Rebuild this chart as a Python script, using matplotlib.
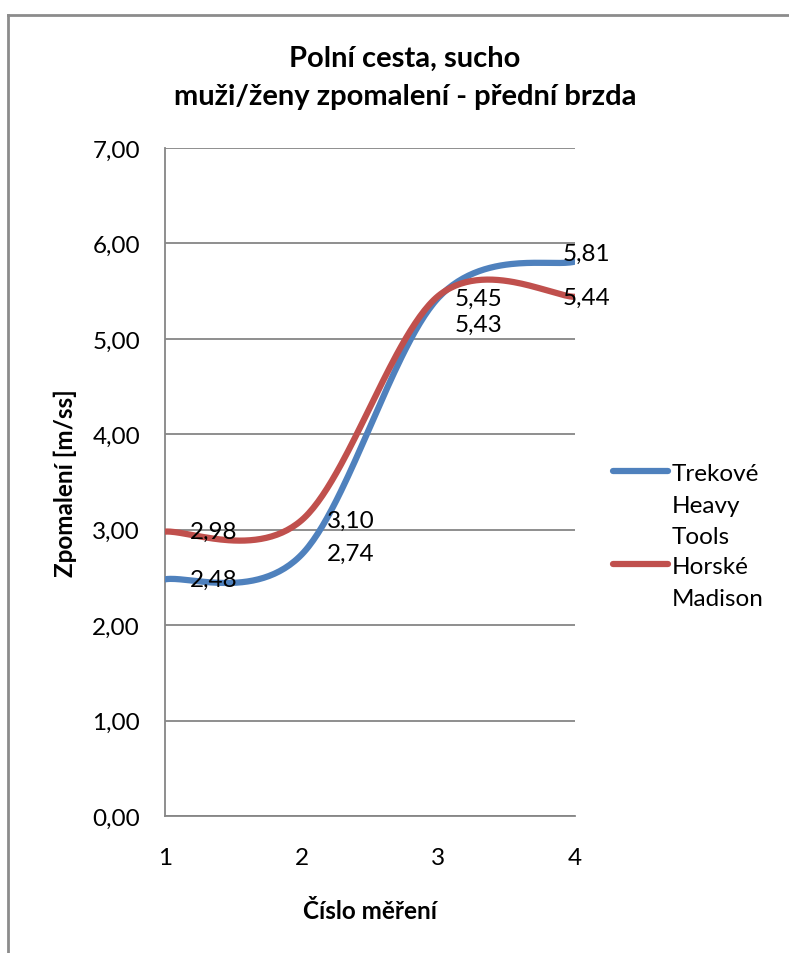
import numpy as np
import matplotlib
matplotlib.use("Agg")
import matplotlib.pyplot as plt
from matplotlib.lines import Line2D

plt.rcParams['font.family'] = ['Lato', 'DejaVu Sans']

mereni = [1, 2, 3, 4]
trekove = [2.48, 2.74, 5.43, 5.81]
horske = [2.98, 3.10, 5.45, 5.44]
nazvy = ["Trekové\nHeavy\nTools", "Horské\nMadison"]
y_ticks = [0, 1, 2, 3, 4, 5, 6, 7]

# label offsets (points) per series/point
off_trek = [(18, 0), (18, 1), (12, -19), (-9, 6)]
off_hors = [(18, 0), (18, 0), (12, -2), (-9, 0)]

FS = 17.5


def excel_smooth(xs, ys, n=60):
    # Bezier smoothing like Excel (tension 1/6)
    p = np.column_stack([xs, ys]).astype(float)
    out = []
    for i in range(len(p) - 1):
        p0 = p[i - 1] if i > 0 else p[i]
        p3 = p[i + 2] if i + 2 < len(p) else p[i + 1]
        c1 = p[i] + (p[i + 1] - p0) / 6
        c2 = p[i + 1] - (p3 - p[i]) / 6
        t = np.linspace(0, 1, n)[:, None]
        seg = ((1 - t) ** 3 * p[i] + 3 * (1 - t) ** 2 * t * c1
               + 3 * (1 - t) * t ** 2 * c2 + t ** 3 * p[i + 1])
        out.append(seg if i == 0 else seg[1:])
    seg = np.vstack(out)
    return seg[:, 0], seg[:, 1]


fig = plt.figure(figsize=(7.89, 9.54), dpi=100)
ax = fig.add_axes([165 / 789, 1 - 817 / 954, 410 / 789, 668 / 954])

barvy = ["#4F81BD", "#C0504D"]
for data, barva, offs in [(trekove, barvy[0], off_trek),
                          (horske, barvy[1], off_hors)]:
    sx, sy = excel_smooth(mereni, data)
    ax.plot(sx, sy, color=barva, lw=4.5, solid_capstyle="round", zorder=3)
    for x, y, o in zip(mereni, data, offs):
        ax.annotate(f"{y:.2f}".replace(".", ","), (x, y), xytext=o,
                    textcoords="offset points", ha="left", va="center",
                    fontsize=FS, zorder=4, annotation_clip=False)

ax.set_xlim(1, 4)
ax.set_ylim(0, 7)
ax.set_yticks(y_ticks)
ax.set_yticklabels([f"{v:.2f}".replace(".", ",") for v in y_ticks], fontsize=FS)
ax.set_xticks(mereni)
ax.set_xticklabels([str(m) for m in mereni], fontsize=FS)
ax.tick_params(length=0)
ax.tick_params(axis="y", pad=18)
ax.tick_params(axis="x", pad=22)
ax.grid(axis="y", color="#868686", lw=1.3)
ax.set_axisbelow(True)
for s in ["top", "right"]:
    ax.spines[s].set_visible(False)
for s in ["left", "bottom"]:
    ax.spines[s].set_color("#868686")
    ax.spines[s].set_linewidth(1.3)

ax.set_ylabel("Zpomalení [m/ss]", fontsize=FS, fontweight="bold", labelpad=11)
ax.set_xlabel("Číslo měření", fontsize=FS, fontweight="bold", labelpad=23)
fig.text(405 / 789, 1 - 78 / 954, "Polní cesta, sucho\nmuži/ženy zpomalení - přední brzda",
         ha="center", va="center", fontsize=21, fontweight="bold", linespacing=1.55)

# legend drawn by hand so the line sits at the first text row (like Excel)
leg_y = [0.5165, 0.377]
for nazev, barva, ly in zip(nazvy, barvy, leg_y):
    ax.add_artist(Line2D([1.093, 1.227], [ly, ly], transform=ax.transAxes,
                         color=barva, lw=4.5, solid_capstyle="round", clip_on=False))
    ax.text(1.235, ly + 0.012, nazev, transform=ax.transAxes, ha="left", va="top",
            fontsize=FS, linespacing=1.62, clip_on=False)

# chart border (top + left)
fig.add_artist(Line2D([8 / 789, 1], [1 - 16 / 954] * 2, color="#8c8c8c", lw=2))
fig.add_artist(Line2D([8 / 789] * 2, [0, 1 - 16 / 954], color="#8c8c8c", lw=2))

fig.savefig("out.png", dpi=100)
